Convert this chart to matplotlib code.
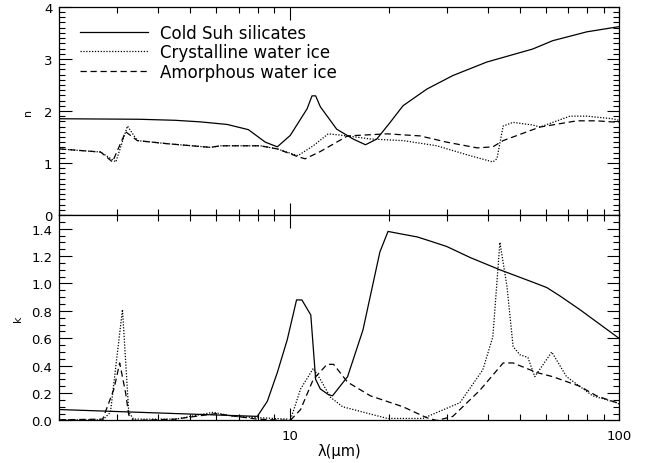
import numpy as np
import matplotlib
matplotlib.use("Agg")
import matplotlib.pyplot as plt
from matplotlib.ticker import FixedLocator, MultipleLocator, NullFormatter, FixedFormatter

# refractive index n
suh_n_x = [2.0, 3.5, 4.5, 5.36, 6.47, 7.5, 8.44, 9.18, 10.05, 11.3, 11.7, 12.0, 12.4, 13.9,
           15.6, 17.0, 18.4, 20.2, 22.1, 26.1, 31.3, 39.7, 54.7, 62.9, 79.8, 100]
suh_n = [1.85, 1.84, 1.82, 1.79, 1.74, 1.64, 1.40, 1.31, 1.53, 2.04, 2.29, 2.29, 2.08, 1.65,
         1.46, 1.35, 1.46, 1.78, 2.10, 2.42, 2.68, 2.94, 3.19, 3.35, 3.52, 3.62]

cry_n_x = [2.0, 2.67, 2.97, 3.22, 3.45, 4.26, 5.75, 6.17, 8.15, 9.18, 10.6, 11.8, 13.1, 15.0,
           17.6, 22.1, 28.0, 35.3, 41.4, 42.6, 44.5, 47.7, 54.7, 57.5, 71.0, 79.8, 95.5, 100]
cry_n = [1.27, 1.21, 1.02, 1.71, 1.43, 1.37, 1.30, 1.33, 1.33, 1.27, 1.14, 1.33, 1.56, 1.52,
         1.46, 1.43, 1.33, 1.14, 1.02, 1.08, 1.71, 1.78, 1.73, 1.69, 1.90, 1.90, 1.85, 1.82]

amo_n_x = [2.0, 2.67, 2.9, 3.18, 3.45, 4.26, 5.75, 6.17, 8.15, 9.18, 10.6, 11.15, 12.4, 15.0,
           19.8, 24.9, 30.0, 37.1, 41.4, 44.5, 57.5, 74.5, 85.5, 100]
amo_n = [1.27, 1.21, 1.02, 1.60, 1.43, 1.37, 1.30, 1.33, 1.33, 1.27, 1.12, 1.08, 1.22, 1.52,
         1.56, 1.52, 1.40, 1.29, 1.31, 1.43, 1.69, 1.81, 1.81, 1.78]

# extinction k
suh_k_x = [2.0, 7.98, 8.56, 9.18, 9.84, 10.5, 10.9, 11.6, 12.0, 12.4, 13.1, 13.5, 15.0, 16.7,
           18.8, 19.9, 22.0, 24.4, 26.7, 30.0, 35.3, 43.5, 54.7, 60.4, 66.1, 76.0, 100]
suh_k = [0.08, 0.03, 0.14, 0.35, 0.59, 0.88, 0.88, 0.77, 0.30, 0.23, 0.19, 0.18, 0.32, 0.66,
         1.23, 1.38, 1.36, 1.34, 1.31, 1.27, 1.19, 1.10, 1.01, 0.97, 0.91, 0.81, 0.60]

cry_k_x = [2.0, 2.71, 2.86, 3.11, 3.25, 3.36, 4.5, 5.87, 6.75, 9.84, 10.05, 10.8, 11.8, 12.4,
           13.3, 14.5, 19.8, 25.4, 32.9, 38.6, 41.4, 43.5, 45.7, 47.7, 50.0, 52.9, 55.5, 62.5,
           69.3, 83.2, 98.4, 100]
cry_k = [0.005, 0.005, 0.06, 0.81, 0.06, 0.01, 0.01, 0.06, 0.03, 0.01, 0.0, 0.23, 0.38, 0.30,
         0.17, 0.10, 0.015, 0.015, 0.13, 0.37, 0.61, 1.30, 0.98, 0.54, 0.48, 0.46, 0.32, 0.50,
         0.32, 0.18, 0.13, 0.12]

amo_k_x = [2.0, 2.71, 2.93, 3.05, 3.18, 3.25, 3.36, 4.5, 5.96, 7.98, 10.05, 10.8, 11.8, 13.0,
           13.6, 15.0, 17.6, 22.1, 26.1, 28.0, 31.3, 37.8, 44.5, 47.7, 56.3, 62.9, 76.0, 85.5,
           98.4, 100]
amo_k = [0.005, 0.01, 0.23, 0.42, 0.20, 0.04, 0.0, 0.01, 0.05, 0.01, 0.0, 0.08, 0.30, 0.41,
         0.41, 0.28, 0.18, 0.10, 0.02, 0.0, 0.03, 0.22, 0.42, 0.42, 0.35, 0.32, 0.25, 0.18,
         0.13, 0.12]

labels = ["Cold Suh silicates", "Crystalline water ice", "Amorphous water ice"]

lw = 0.9
dot = (0, (1, 1.3))
dash = (0, (5, 3))

fig = plt.figure(figsize=(6.46, 4.64), dpi=100)
left, width = 0.0918, 0.8664
ax1 = fig.add_axes([left, 0.5345, width, 0.4485])
ax2 = fig.add_axes([left, 0.0916, width, 0.4429])

ax1.plot(suh_n_x, suh_n, color='k', lw=lw, label=labels[0])
ax1.plot(cry_n_x, cry_n, color='k', lw=lw, linestyle=dot, label=labels[1])
ax1.plot(amo_n_x, amo_n, color='k', lw=lw, linestyle=dash, label=labels[2])

ax2.plot(suh_k_x, suh_k, color='k', lw=lw)
ax2.plot(cry_k_x, cry_k, color='k', lw=lw, linestyle=dot)
ax2.plot(amo_k_x, amo_k, color='k', lw=lw, linestyle=dash)

for ax in (ax1, ax2):
    ax.set_xscale('log')
    ax.set_xlim(2, 100)
    ax.xaxis.set_major_locator(FixedLocator([10, 100]))
    ax.xaxis.set_minor_locator(FixedLocator([2, 3, 4, 5, 6, 7, 8, 9, 20, 30, 40, 50, 60, 70, 80, 90]))
    ax.xaxis.set_minor_formatter(NullFormatter())
    ax.tick_params(which='both', direction='in', top=True, right=True, width=0.8, labelsize=9.5)
    ax.tick_params(which='major', length=9)
    ax.tick_params(which='minor', length=4.5)
    ax.tick_params(axis='y', pad=5)
    for s in ax.spines.values():
        s.set_linewidth(0.9)

ax1.set_ylim(0, 4)
ax1.yaxis.set_major_locator(MultipleLocator(1))
ax1.yaxis.set_minor_locator(MultipleLocator(0.1))
ax1.xaxis.set_major_formatter(NullFormatter())
ax1.set_ylabel("n", fontsize=8, labelpad=8)

ax2.set_ylim(0, 1.5)
ax2.set_yticks([0, 0.2, 0.4, 0.6, 0.8, 1.0, 1.2, 1.4])
ax2.set_yticklabels(["0.0", "0.2", "0.4", "0.6", "0.8", "1.0", "1.2", "1.4"])
ax2.yaxis.set_minor_locator(MultipleLocator(0.05))
ax2.xaxis.set_major_formatter(FixedFormatter(["10", "100"]))
ax2.tick_params(axis='x', which='major', pad=6)
ax2.set_ylabel("k", fontsize=8, labelpad=6)
ax2.set_xlabel("λ(μm)", fontsize=10.5, labelpad=1)

ax1.legend(loc='upper left', bbox_to_anchor=(0.037, 0.92), frameon=False, fontsize=12,
           handlelength=4.1, handletextpad=0.7, labelspacing=0.1, borderpad=0, borderaxespad=0)

fig.savefig("out.png", dpi=100)
